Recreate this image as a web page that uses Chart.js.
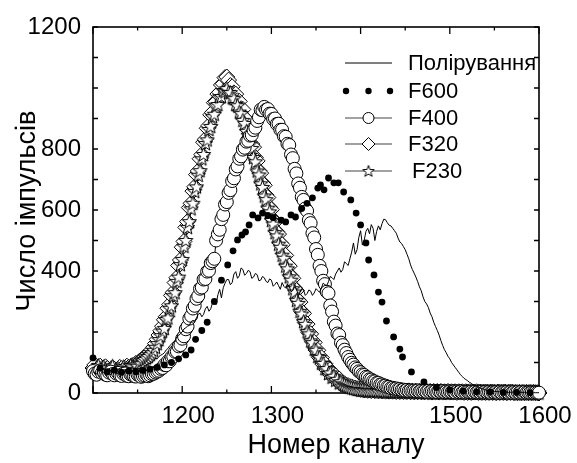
<!DOCTYPE html>
<html><head><meta charset="utf-8">
<script src="https://cdn.jsdelivr.net/npm/chart.js@4.4.0/dist/chart.umd.min.js"></script>
<style>html,body{margin:0;padding:0;background:#fff;}#wrap{width:577px;height:463px;}</style>
</head><body><div id="wrap"><canvas id="c" width="577" height="463"></canvas></div>
<script>
const channels = [
1100,1102,1104,1106,1108,1110,1112,1114,1116,1118,1120,1122,1124,1126,1128,1130,1132,1134,1136,1138,
1140,1142,1144,1146,1148,1150,1152,1154,1156,1158,1160,1162,1164,1166,1168,1170,1172,1174,1176,1178,
1180,1182,1184,1186,1188,1190,1192,1194,1196,1198,1200,1202,1204,1206,1208,1210,1212,1214,1216,1218,
1220,1222,1224,1226,1228,1230,1232,1234,1236,1238,1240,1242,1244,1246,1248,1250,1252,1254,1256,1258,
1260,1262,1264,1266,1268,1270,1272,1274,1276,1278,1280,1282,1284,1286,1288,1290,1292,1294,1296,1298,
1300,1302,1304,1306,1308,1310,1312,1314,1316,1318,1320,1322,1324,1326,1328,1330,1332,1334,1336,1338,
1340,1342,1344,1346,1348,1350,1352,1354,1356,1358,1360,1362,1364,1366,1368,1370,1372,1374,1376,1378,
1380,1382,1384,1386,1388,1390,1392,1394,1396,1398,1400,1402,1404,1406,1408,1410,1412,1414,1416,1418,
1420,1422,1424,1426,1428,1430,1432,1434,1436,1438,1440,1442,1444,1446,1448,1450,1452,1454,1456,1458,
1460,1462,1464,1466,1468,1470,1472,1474,1476,1478,1480,1482,1484,1486,1488,1490,1492,1494,1496,1498,
1500,1502,1504,1506,1508,1510,1512,1514,1516,1518,1520,1522,1524,1526,1528,1530,1532,1534,1536,1538,
1540,1542,1544,1546,1548,1550,1552,1554,1556,1558,1560,1562,1564,1566,1568,1570,1572,1574,1576,1578,
1580,1582,1584,1586,1588,1590,1592,1594,1596,1598,1600];
const polishing = [
70,66,62,72,78,70,66,75,74,64,60,68,72,63,65,74,76,70,68,77,
74,68,70,79,80,74,76,86,84,88,90,98,96,100,105,114,112,120,124,127,
132,141,146,155,160,167,172,184,188,195,200,210,214,219,222,234,238,236,246,258,
262,250,258,276,284,268,276,296,300,290,322,340,312,345,360,372,372,355,362,390,
398,376,384,410,405,386,392,402,398,376,380,392,388,368,370,382,378,366,362,374,
370,350,356,364,352,340,362,350,344,356,350,332,336,348,342,322,330,342,338,320,
326,338,334,320,328,342,336,330,344,360,355,352,365,382,378,372,390,400,410,396,
405,430,425,418,440,462,492,455,470,510,532,485,500,530,540,522,552,540,500,530,
548,535,555,570,568,558,550,548,540,532,524,508,495,490,480,470,455,440,420,405,
393,380,365,348,335,315,300,292,280,262,250,232,218,205,190,172,156,142,132,120,
112,100,92,84,76,68,60,54,48,44,40,35,32,27,24,21,18,16,14,12,
10,9,8,7,6,5,5,4,4,3,3,3,3,2,2,3,3,2,2,2,
2,2,2,1,1,2,2,1,1,1,1];
const f400 = [
72,64,60,70,74,66,68,60,58,67,70,62,58,64,66,58,56,63,64,56,
55,61,60,55,54,60,59,53,56,58,61,55,58,62,63,67,70,73,79,82,
92,91,104,104,118,119,135,136,153,157,178,186,209,218,244,253,277,286,309,318,
342,346,372,374,398,401,426,432,440,500,520,535,570,584,618,626,656,665,695,704,
733,743,768,776,798,804,824,827,844,846,862,870,892,904,929,927,938,929,931,916,
915,898,900,882,883,863,863,842,840,817,813,782,770,735,720,687,673,643,633,605,
597,567,557,524,510,472,453,417,400,368,357,332,327,287,267,234,221,195,190,165,
157,142,131,118,109,99,93,84,79,71,68,61,59,53,51,45,44,39,38,33,
33,28,28,24,24,20,20,16,17,14,15,12,13,10,11,8,10,7,9,7,
8,6,8,5,7,5,7,4,7,4,6,4,6,3,6,4,6,3,5,3,
5,3,5,2,5,3,5,2,4,2,4,3,4,2,4,2,4,2,4,2,
4,2,3,1,3,2,3,1,3,1,3,2,3,1,3,1,3,1,3,1,
3,1,3,1,2,1,2,1,2,1,1];
const f320 = [
82,92,76,70,88,80,74,86,80,72,71,82,78,68,72,84,80,74,76,88,
84,80,90,86,97,94,104,108,113,118,124,128,134,142,150,162,176,190,204,219,
240,250,278,290,320,330,362,378,418,436,478,497,543,562,608,622,662,676,716,728,
768,782,822,832,868,877,912,920,952,955,980,986,1010,1014,1034,1036,1026,1008,1004,984,
980,958,956,932,930,902,896,862,851,816,806,772,761,729,721,689,681,649,641,609,
601,569,561,529,521,492,486,456,451,422,416,384,376,344,336,305,298,267,261,231,
226,198,194,168,166,141,140,116,116,94,96,76,80,61,66,49,56,39,46,30,
32,30,26,24,21,20,17,16,14,14,12,12,10,11,9,10,8,10,8,9,
7,9,7,8,6,8,6,7,6,8,5,7,5,7,5,6,5,7,4,6,
4,6,4,6,4,5,4,6,3,5,3,5,3,5,3,5,3,4,3,5,
3,4,3,4,2,4,3,4,2,4,2,4,2,3,3,4,2,3,2,3,
2,3,2,3,2,3,1,3,2,3,2,3,1,3,2,3,1,2,1,2,
1,2,1,2,1,2,1,2,1,1,0];
const f230 = [
75,68,84,90,72,66,86,78,74,64,82,88,70,76,80,70,74,86,82,72,
80,90,86,78,92,88,98,96,106,110,115,120,126,132,140,150,162,175,188,203,
212,241,246,278,286,319,329,366,380,421,438,481,500,543,562,604,622,661,676,714,
729,768,782,818,830,864,874,906,914,942,946,971,972,992,988,998,986,985,968,965,
946,942,921,916,894,884,858,845,816,802,772,758,728,715,686,674,646,634,606,594,
566,554,526,515,488,478,452,442,416,407,381,370,342,331,304,294,268,259,234,225,
201,194,171,165,144,140,120,117,98,97,80,80,64,66,52,55,42,45,33,37,
30,27,24,21,19,17,15,14,12,12,10,11,9,10,8,9,7,9,7,8,
6,8,6,7,5,7,5,6,5,7,4,6,4,6,4,5,4,6,3,5,
3,5,3,4,3,5,3,4,3,4,3,4,2,4,2,4,2,3,2,4,
2,3,2,3,2,3,2,3,2,3,2,3,2,3,1,3,2,3,1,2,
1,2,1,3,1,2,1,2,1,2,1,2,1,2,1,2,1,2,1,2,
1,2,1,2,1,2,1,1,1,1,0];
const f600Channels = [1100,1108,1116,1124,1132,1140,1148,1156,1164,1172,1180,1188,1196,1204,1210,1215,1222,1228,1236,1244,1251,1257,1262,1267,1271,1275,1279,1285,1290,1296,1302,1311,1316,1322,1327,1334,1340,1346,1352,1355,1359,1364,1370,1375,1381,1389,1395,1400,1406,1409,1415,1420,1424,1429,1437,1444,1447,1457,1471,1485,1500,1515,1530,1545,1560,1575,1590];
const f600 = [115,82,70,75,68,72,70,74,78,84,92,100,112,125,141,176,205,232,300,370,420,466,502,518,528,551,584,574,590,582,575,567,561,584,577,605,622,640,672,682,666,705,689,689,659,633,590,551,492,436,387,331,298,236,184,144,118,69,36,18,10,6,4,3,2,2,1];
const seriesNames = ['Полірування','F600','F400','F320','F230'];
const xLabelValues = [1200,1300,1500,1600];
const yLabelValues = [0,400,600,800,1200];
const xTitle = 'Номер каналу';
const yTitle = 'Число імпульсів';

const FONT = "'Liberation Sans', Arial, sans-serif";

function makeStar(r, lw){
  const s = Math.ceil(r*2 + lw*2 + 2);
  const c = document.createElement('canvas'); c.width = s; c.height = s;
  const g = c.getContext('2d'); g.translate(s/2, s/2+0.5);
  g.beginPath();
  for (let i=0;i<10;i++){ const rr = i%2 ? r*0.42 : r; const a = -Math.PI/2 + i*Math.PI/5; g.lineTo(rr*Math.cos(a), rr*Math.sin(a)); }
  g.closePath(); g.fillStyle='#fff'; g.fill(); g.strokeStyle='#000'; g.lineWidth=lw; g.stroke();
  return c;
}
const starImg = makeStar(7.5, 1);
const starSmall = makeStar(6, 1);

const pts = arr => channels.map((c,i)=>({x:c, y:arr[i]}));

const framePlugin = {
  id:'frame',
  beforeDatasetsDraw(chart){
    const {ctx, chartArea:{left,right,top,bottom}, scales:{x,y}} = chart;
    ctx.save();
    ctx.strokeStyle='#000'; ctx.lineWidth=1.6;
    ctx.strokeRect(left, top, right-left, bottom-top);
    ctx.lineWidth=1.3; ctx.beginPath();
    x.ticks.forEach(t=>{ const px = x.getPixelForValue(t.value); const len = (t.value%100===0)?7:3.5;
      ctx.moveTo(px,bottom); ctx.lineTo(px,bottom-len); ctx.moveTo(px,top); ctx.lineTo(px,top+len); });
    y.ticks.forEach(t=>{ const py = y.getPixelForValue(t.value);
      ctx.moveTo(left,py); ctx.lineTo(left+5,py); ctx.moveTo(right,py); ctx.lineTo(right-5,py); });
    ctx.stroke();
    ctx.restore();
  },
  afterDraw(chart){
    const ctx = chart.ctx;
    ctx.save();
    ctx.fillStyle='#000';
    ctx.font = "27px " + FONT;
    ctx.textAlign='center'; ctx.textBaseline='alphabetic';
    ctx.fillText(xTitle, 336, 453);
    ctx.translate(35, 211); ctx.rotate(-Math.PI/2);
    ctx.fillText(yTitle, 0, 0);
    ctx.restore();
    ctx.save();
    const ys = [63, 91, 118, 144, 171];
    const x0 = 345, x1 = 392, xm = 368.5, tx = 408;
    ctx.font = "22px " + FONT; ctx.textAlign='left'; ctx.textBaseline='middle'; ctx.fillStyle='#000';
    seriesNames.forEach((n,i)=>{
      const yy = ys[i];
      ctx.save();
      if (i===0){ ctx.strokeStyle='#000'; ctx.lineWidth=1; ctx.beginPath(); ctx.moveTo(x0,yy); ctx.lineTo(x1,yy); ctx.stroke(); }
      else if (i===1){ ctx.fillStyle='#000'; [x0+1, xm, x1-2].forEach(px=>{ ctx.beginPath(); ctx.arc(px,yy,3.2,0,Math.PI*2); ctx.fill(); }); }
      else {
        ctx.strokeStyle='#444'; ctx.lineWidth=1.2; ctx.beginPath(); ctx.moveTo(x0,yy); ctx.lineTo(x1,yy); ctx.stroke();
        ctx.strokeStyle='#000'; ctx.fillStyle='#fff'; ctx.lineWidth=1;
        if (i===2){ ctx.beginPath(); ctx.arc(xm,yy,5.5,0,Math.PI*2); ctx.fill(); ctx.stroke(); }
        else if (i===3){ ctx.beginPath(); ctx.moveTo(xm,yy-6.5); ctx.lineTo(xm+6.5,yy); ctx.lineTo(xm,yy+6.5); ctx.lineTo(xm-6.5,yy); ctx.closePath(); ctx.fill(); ctx.stroke(); }
        else { ctx.drawImage(starSmall, xm - starSmall.width/2, yy - starSmall.height/2); }
      }
      ctx.restore();
      ctx.fillText(n, i===4 ? tx+4 : tx, yy+1);
    });
    ctx.restore();
  }
};

Chart.defaults.font.family = FONT;
Chart.defaults.color = '#000';

new Chart(document.getElementById('c'), {
  type: 'scatter',
  data: { datasets: [
    { label: seriesNames[0], data: pts(polishing), showLine:true, borderColor:'#000', borderWidth:1, pointRadius:0, order:0, clip:false },
    { label: seriesNames[1], data: f600Channels.map((c,i)=>({x:c,y:f600[i]})), showLine:false, pointRadius:3.4, pointBackgroundColor:'#000', pointBorderColor:'#000', pointBorderWidth:0, order:1, clip:false },
    { label: seriesNames[2], data: pts(f400), showLine:true, borderColor:'#000', borderWidth:1, pointStyle:'circle', pointRadius:6.5, pointBackgroundColor:'#fff', pointBorderColor:'#000', pointBorderWidth:1, order:2, clip:false },
    { label: seriesNames[3], data: pts(f320), showLine:true, borderColor:'#000', borderWidth:1, pointStyle:'rectRot', pointRadius:8, pointBackgroundColor:'#fff', pointBorderColor:'#000', pointBorderWidth:1, order:4, clip:false },
    { label: seriesNames[4], data: pts(f230), showLine:true, borderColor:'#000', borderWidth:1, pointStyle:starImg, pointRadius:7, order:3, clip:false }
  ]},
  options: {
    responsive:false, animation:false, devicePixelRatio:1,
    layout:{ padding:{ top:27, right:38, left:0, bottom:0 } },
    plugins:{ legend:{display:false}, tooltip:{enabled:false} },
    scales:{
      x:{ type:'linear', min:1100, max:1600, position:'bottom',
        grid:{display:false, drawTicks:false}, border:{display:false},
        ticks:{ stepSize:50, autoSkip:false, maxRotation:0, padding:9, labelOffset:6,
          font:{size:24, family:FONT}, color:'#000',
          callback:v => xLabelValues.includes(v) ? String(v) : '' },
        afterFit:s => { s.height = 70; } },
      y:{ type:'linear', min:0, max:1200,
        grid:{display:false, drawTicks:false}, border:{display:false},
        ticks:{ stepSize:100, autoSkip:false, padding:12,
          font:{size:24, family:FONT}, color:'#000',
          callback:v => yLabelValues.includes(v) ? String(v) : '' },
        afterFit:s => { s.width = 93; } }
    }
  },
  plugins:[framePlugin]
});
</script>
</body></html>
